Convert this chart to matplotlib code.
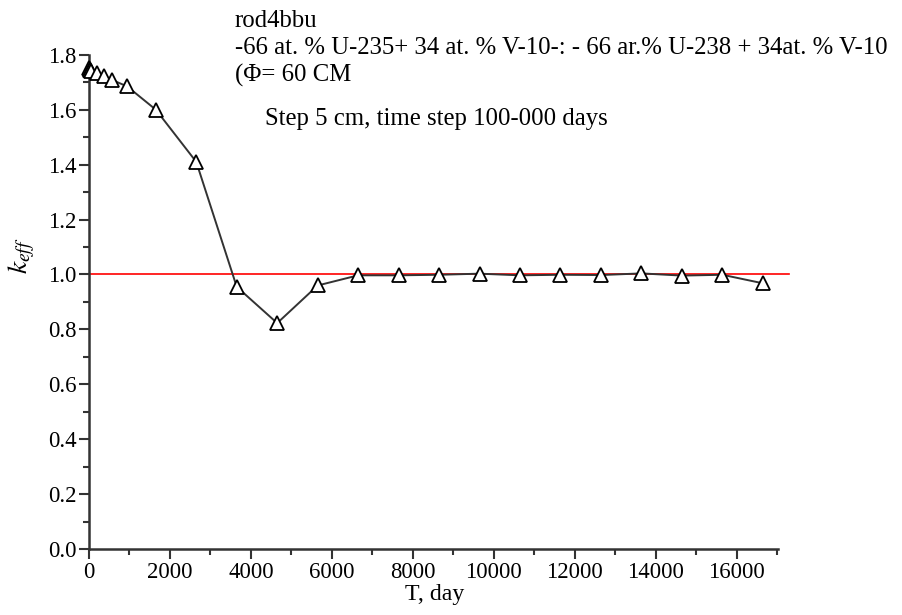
import matplotlib.pyplot as plt
import numpy as np

# time (days) and k_eff
t_days = [0, 15, 30, 45, 200, 380, 570, 940, 1650, 2650, 3650, 4650, 5650,
          6650, 7650, 8650, 9650, 10650, 11650, 12650, 13650, 14650, 15650, 16650]
k_eff = [1.752, 1.748, 1.744, 1.741, 1.735, 1.722, 1.708, 1.685, 1.600, 1.410,
         0.955, 0.823, 0.960, 0.997, 0.997, 0.999, 1.003, 0.997, 0.999, 0.998,
         1.004, 0.996, 0.999, 0.968]
critical_k = 1.0

x_ticks = np.arange(0, 16001, 2000)
y_ticks = np.arange(0, 1.81, 0.2)

plt.rcParams['font.family'] = ['Liberation Serif', 'DejaVu Serif']
plt.rcParams['mathtext.fontset'] = 'stix'

fig = plt.figure(figsize=(9.02, 6.15), dpi=100)
ax = fig.add_axes([0.0987, 0.107, 0.782, 0.804])

ax.plot([0, 17300], [critical_k, critical_k], color='red', lw=1.2, zorder=2)
ax.plot(t_days, k_eff, color='#333333', lw=1.4, marker='^', ms=10,
        mfc='white', mec='black', mew=1.3, zorder=3, clip_on=False)

ax.set_xlim(0, 17430)
ax.set_ylim(0, 1.8)
ax.set_xticks(x_ticks)
ax.set_yticks(y_ticks)
ax.set_yticklabels(["%.1f" % v for v in y_ticks])
ax.set_xticks(np.arange(1000, 17001, 2000), minor=True)
ax.set_yticks(np.arange(0.1, 1.8, 0.2), minor=True)
ax.tick_params(which='major', length=7, width=1.5, labelsize=16.4, color='#333333', pad=2)
ax.tick_params(which='minor', length=4, width=1.5, color='#333333')

for s in ['top', 'right']:
    ax.spines[s].set_visible(False)
for s in ['left', 'bottom']:
    ax.spines[s].set_linewidth(1.8)
    ax.spines[s].set_color('#333333')
ax.spines['left'].set_bounds(0, 1.8)
ax.spines['bottom'].set_bounds(0, 17030)

ax.set_xlabel("T, day", fontsize=17.2)
ax.xaxis.set_label_coords(0.49, -0.07)
ax.set_ylabel(r"$k_{eff}$", fontsize=20)
ax.yaxis.set_label_coords(-0.074, 0.593)

txt = dict(fontsize=17.8, va='baseline')
fig.text(0.2605, 0.956, "rod4bbu", **txt)
fig.text(0.2605, 0.912, "-66 at. % U-235+ 34 at. % V-10-: - 66 ar.% U-238 + 34at. % V-10", **txt)
fig.text(0.2605, 0.867, "(\u03a6= 60 CM", **txt)
fig.text(0.294, 0.797, "Step 5 cm, time step 100-000 days", **txt)

plt.savefig("out.png", dpi=100)
